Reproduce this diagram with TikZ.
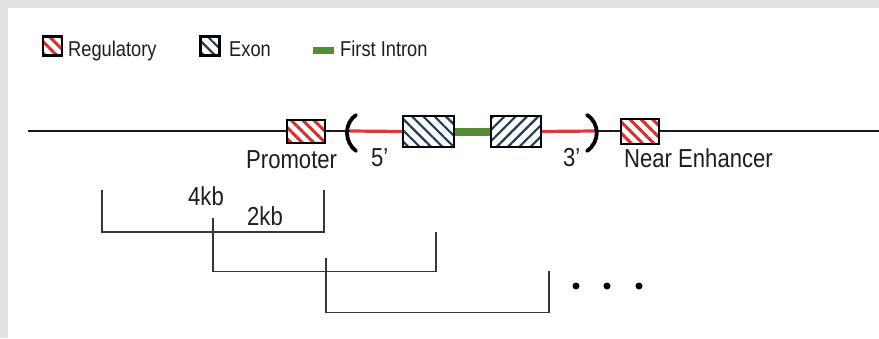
\documentclass[tikz,border=0pt]{standalone}
\usepackage{fontspec}
\setmainfont[FakeStretch=0.85]{Liberation Sans}
\usetikzlibrary{patterns.meta}
\definecolor{bggray}{RGB}{225,225,225}
\definecolor{regred}{RGB}{220,45,45}
\definecolor{exblue}{RGB}{35,60,90}
\definecolor{intgreen}{RGB}{85,140,55}
\definecolor{linered}{RGB}{215,60,60}
\definecolor{txt}{RGB}{30,30,30}
\definecolor{brk}{RGB}{55,55,55}
\tikzset{
  boxbase/.style={draw=black, line width=1.6pt, inner sep=0pt, preaction={fill=white}},
  regbox/.style={boxbase, pattern={Lines[angle=-45,distance=8pt,line width=3pt]}, pattern color=regred},
  exboxa/.style={boxbase, pattern={Lines[angle=-45,distance=8pt,line width=2.2pt]}, pattern color=exblue},
  exboxb/.style={boxbase, pattern={Lines[angle=45,distance=8pt,line width=2.2pt]}, pattern color=exblue},
  lbl/.style={font=\fontsize{26}{30}\selectfont, text=txt, inner sep=0pt, anchor=base west},
  leg/.style={font=\fontsize{21.5}{25}\selectfont, text=txt, inner sep=0pt, anchor=base west},
  bracket/.style={draw=brk, line width=1.8pt},
  paren/.style={draw=black, line width=3.8pt, line cap=round},
  dotmark/.style={circle, fill=black, inner sep=0pt, minimum size=7pt}
}
\begin{document}
\begin{tikzpicture}[x=1pt,y=-1pt]
\fill[bggray] (0,0) rectangle (879,338);
\fill[white] (8,8) rectangle (879,338);
\useasboundingbox (0,0) rectangle (879,338);

% legend
\node[regbox, minimum width=19pt, minimum height=19pt, line width=2.4pt] (lreg) at (52.5,46) {};
\node[leg] (treg) at (68,56) {Regulatory};
\node[exboxa, minimum width=19pt, minimum height=19pt, line width=2.4pt] (lex) at (210,46) {};
\node[leg] (tex) at (229,56) {Exon};
\node[fill=intgreen, minimum width=21pt, minimum height=7pt, inner sep=0pt] (lint) at (323.5,50.5) {};
\node[leg] (tint) at (340,56) {First Intron};

% main line
\coordinate (L) at (28,131);
\coordinate (R) at (879,131);
\draw[line width=2pt, black!90] (L) -- (R);

\coordinate (lp) at (350,131);
\coordinate (rp) at (595,131);

\node[regbox, minimum width=38pt, minimum height=23pt] (prom) at (306,131.5) {};
\node[regbox, minimum width=38pt, minimum height=25pt] (enh) at (640,131.5) {};
\node[exboxa, minimum width=51pt, minimum height=31pt] (ex1) at (428.5,131.5) {};
\node[exboxb, minimum width=50pt, minimum height=31pt] (ex2) at (516,131.5) {};

\draw[linered, line width=3.2pt] (lp) -- (ex1.west);
\draw[linered, line width=3.2pt] (ex2.east) -- (rp);
\draw[intgreen, line width=8pt] (ex1.east) -- (ex2.west);
\node[exboxa, minimum width=51pt, minimum height=31pt] at (ex1) {};
\node[exboxb, minimum width=50pt, minimum height=31pt] at (ex2) {};

% parentheses
\draw[paren] (356,115) .. controls (344,123) and (344,142) .. (356,151);
\draw[paren] (587,115) .. controls (600,123) and (600,142) .. (587,151);

% labels
\node[lbl] (tprom) at (246,168) {Promoter};
\node[lbl] (tenh) at (624,167) {Near Enhancer};
\node[lbl] (t5) at (371,166) {5’};
\node[lbl] (t3) at (563,166) {3’};

% brackets
\coordinate (b1a) at (101.7,190);
\coordinate (b1b) at (324,190);
\draw[bracket] (b1a) -- (101.7,231.7) -- (324,231.7) -- (b1b);
\coordinate (b2a) at (213,218);
\coordinate (b2b) at (436,232);
\draw[bracket] (b2a) -- (213,271.5) -- (436,271.5) -- (b2b);
\coordinate (b3a) at (326,258);
\coordinate (b3b) at (549,271);
\draw[bracket] (b3a) -- (326,312.5) -- (549,312.5) -- (b3b);
\node[lbl] (t4) at (188,205) {4kb};
\node[lbl] (t2) at (247,225) {2kb};

\node[dotmark] (d1) at (576,286) {};
\node[dotmark] (d2) at (607,286) {};
\node[dotmark] (d3) at (639,286) {};
\end{tikzpicture}
\end{document}
